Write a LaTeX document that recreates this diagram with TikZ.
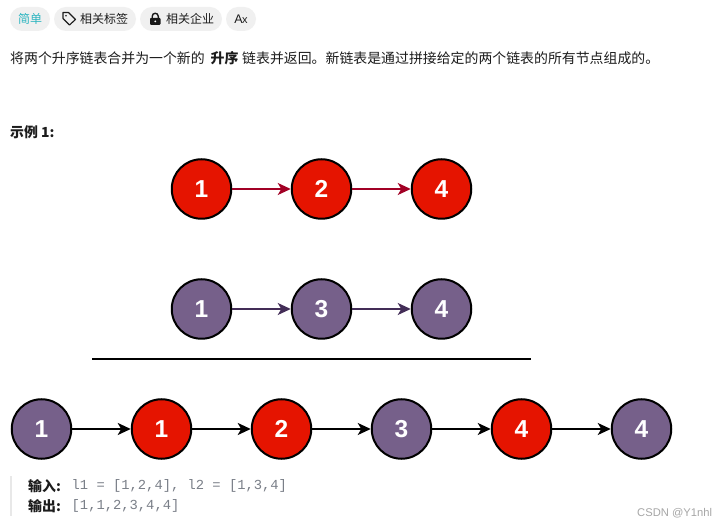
\documentclass[tikz,border=0pt]{standalone}
\usepackage{fontspec}
\setmainfont{Liberation Sans}
\setmonofont{Liberation Mono}
\newfontfamily\cjk{Noto Sans CJK SC}
\usetikzlibrary{arrows.meta,calc}
\definecolor{redfill}{HTML}{E51400}
\definecolor{purplefill}{HTML}{76608A}
\definecolor{redline}{HTML}{A20025}
\definecolor{purpleline}{HTML}{432D57}
\definecolor{pillgray}{HTML}{F0F0F0}
\definecolor{teal1}{HTML}{2DB5C0}
\definecolor{txt}{HTML}{1C1C1C}
\definecolor{codec}{HTML}{7A7F88}
\tikzset{
  lnode/.style={circle,draw=black,line width=2pt,minimum size=59.5pt,inner sep=0pt,text=white,font=\fontsize{24.5}{24}\selectfont\bfseries},
  rednode/.style={lnode,fill=redfill},
  purplenode/.style={lnode,fill=purplefill},
  arr/.style={-{Stealth[length=13pt,width=12pt,inset=3.5pt]}},
  redarr/.style={arr,draw=redline,line width=1.6pt},
  purplearr/.style={arr,draw=purpleline,line width=1.6pt},
  blackarr/.style={arr,draw=black,line width=1.7pt},
  boldarr/.style={arr,draw=black,line width=2.2pt},
  pill/.style={fill=pillgray,draw=none,rounded corners=12pt},
  txtline/.style={anchor=west,inner sep=0pt,text=txt,font=\cjk\fontsize{13.9}{14}\selectfont},
  taglabel/.style={anchor=west,inner sep=0pt,text=txt,font=\cjk\fontsize{12}{12}\selectfont},
  codeline/.style={anchor=west,inner sep=0pt,text=codec,font=\ttfamily\fontsize{13.8}{14}\selectfont},
  boldlabel/.style={anchor=west,inner sep=0pt,text=txt,font=\cjk\bfseries\fontsize{13.9}{14}\selectfont}
}
\begin{document}
\begin{tikzpicture}[x=1pt,y=-1pt]
\useasboundingbox[fill=white] (0,0) rectangle (726,526);
% pills
\fill[pill] (10,7) rectangle (50,31);
\fill[pill] (54,7) rectangle (136,31);
\fill[pill] (140,7) rectangle (222,31);
\fill[pill] (226,7) rectangle (256,31);
\node[taglabel,text=teal1] (t1) at (18,19) {简单};
\node[taglabel] (t2) at (80,19) {相关标签};
\node[taglabel] (t3) at (166,19) {相关企业};
\node[anchor=center,inner sep=0pt,text=txt,font=\fontsize{12.5}{12}\selectfont] (t4) at (241,19) {A\kern-0.8pt\fontsize{11}{11}\selectfont x};
% tag icon
\draw[txt,line width=1.1pt,line join=round] (63,12.5) -- (68.5,12.5) -- (75.5,19.5) -- (69.5,25) -- (63,18.5) -- cycle;
\fill[txt] (66,15.7) circle (0.9);
% lock icon
\fill[black!90,rounded corners=1pt] (150,18) rectangle (160.5,25);
\draw[black!90,line width=1.4pt] (152.2,18.5) -- (152.2,16.5) .. controls (152.2,12.2) and (158.3,12.2) .. (158.3,16.5) -- (158.3,18.5);
\fill[white] (155.25,21.5) circle (1);
% description
\node[txtline] (d1) at (10,58) {将两个升序链表合并为一个新的};
\node[boldlabel] (d2) at (210.5,58) {升序};
\node[txtline] (d3) at (242,58) {链表并返回。新链表是通过拼接给定的两个链表的所有节点组成的。};
\node[boldlabel] (ex) at (10,132.5) {示例 1:};
% row 1
\node[rednode] (a1) at (201.5,189) {1};
\node[rednode] (a2) at (321.5,189) {2};
\node[rednode] (a3) at (441.5,189) {4};
\draw[redarr] (a1) -- (a2);
\draw[redarr] (a2) -- (a3);
% row 2
\node[purplenode] (b1) at (201.5,309) {1};
\node[purplenode] (b2) at (321.5,309) {3};
\node[purplenode] (b3) at (441.5,309) {4};
\draw[purplearr] (b1) -- (b2);
\draw[purplearr] (b2) -- (b3);
% divider
\coordinate (l1) at (92,359);
\coordinate (l2) at (531,359);
\draw[black,line width=1.8pt] (l1) -- (l2);
% row 3
\node[purplenode] (c1) at (41.5,429) {1};
\node[rednode] (c2) at (161.5,429) {1};
\node[rednode] (c3) at (281.5,429) {2};
\node[purplenode] (c4) at (401.5,429) {3};
\node[rednode] (c5) at (521.5,429) {4};
\node[purplenode] (c6) at (641.5,429) {4};
\draw[boldarr] (c1) -- (c2);
\draw[boldarr] (c2) -- (c3);
\draw[blackarr] (c3) -- (c4);
\draw[blackarr] (c4) -- (c5);
\draw[blackarr] (c5) -- (c6);
% example block
\fill[black!9] (10,476) rectangle (12,516);
\node[boldlabel] (i1) at (28,486) {输入:};
\node[codeline] (i2) at (71.5,486) {l1 = [1,2,4], l2 = [1,3,4]};
\node[boldlabel] (o1) at (28,506) {输出:};
\node[codeline] (o2) at (71.5,506) {[1,1,2,3,4,4]};
% watermark
\node[anchor=west,inner sep=0pt,text=black!35,font=\fontsize{11.2}{12}\selectfont] (w) at (637,513) {CSDN @Y1nhl};
\end{tikzpicture}
\end{document}
